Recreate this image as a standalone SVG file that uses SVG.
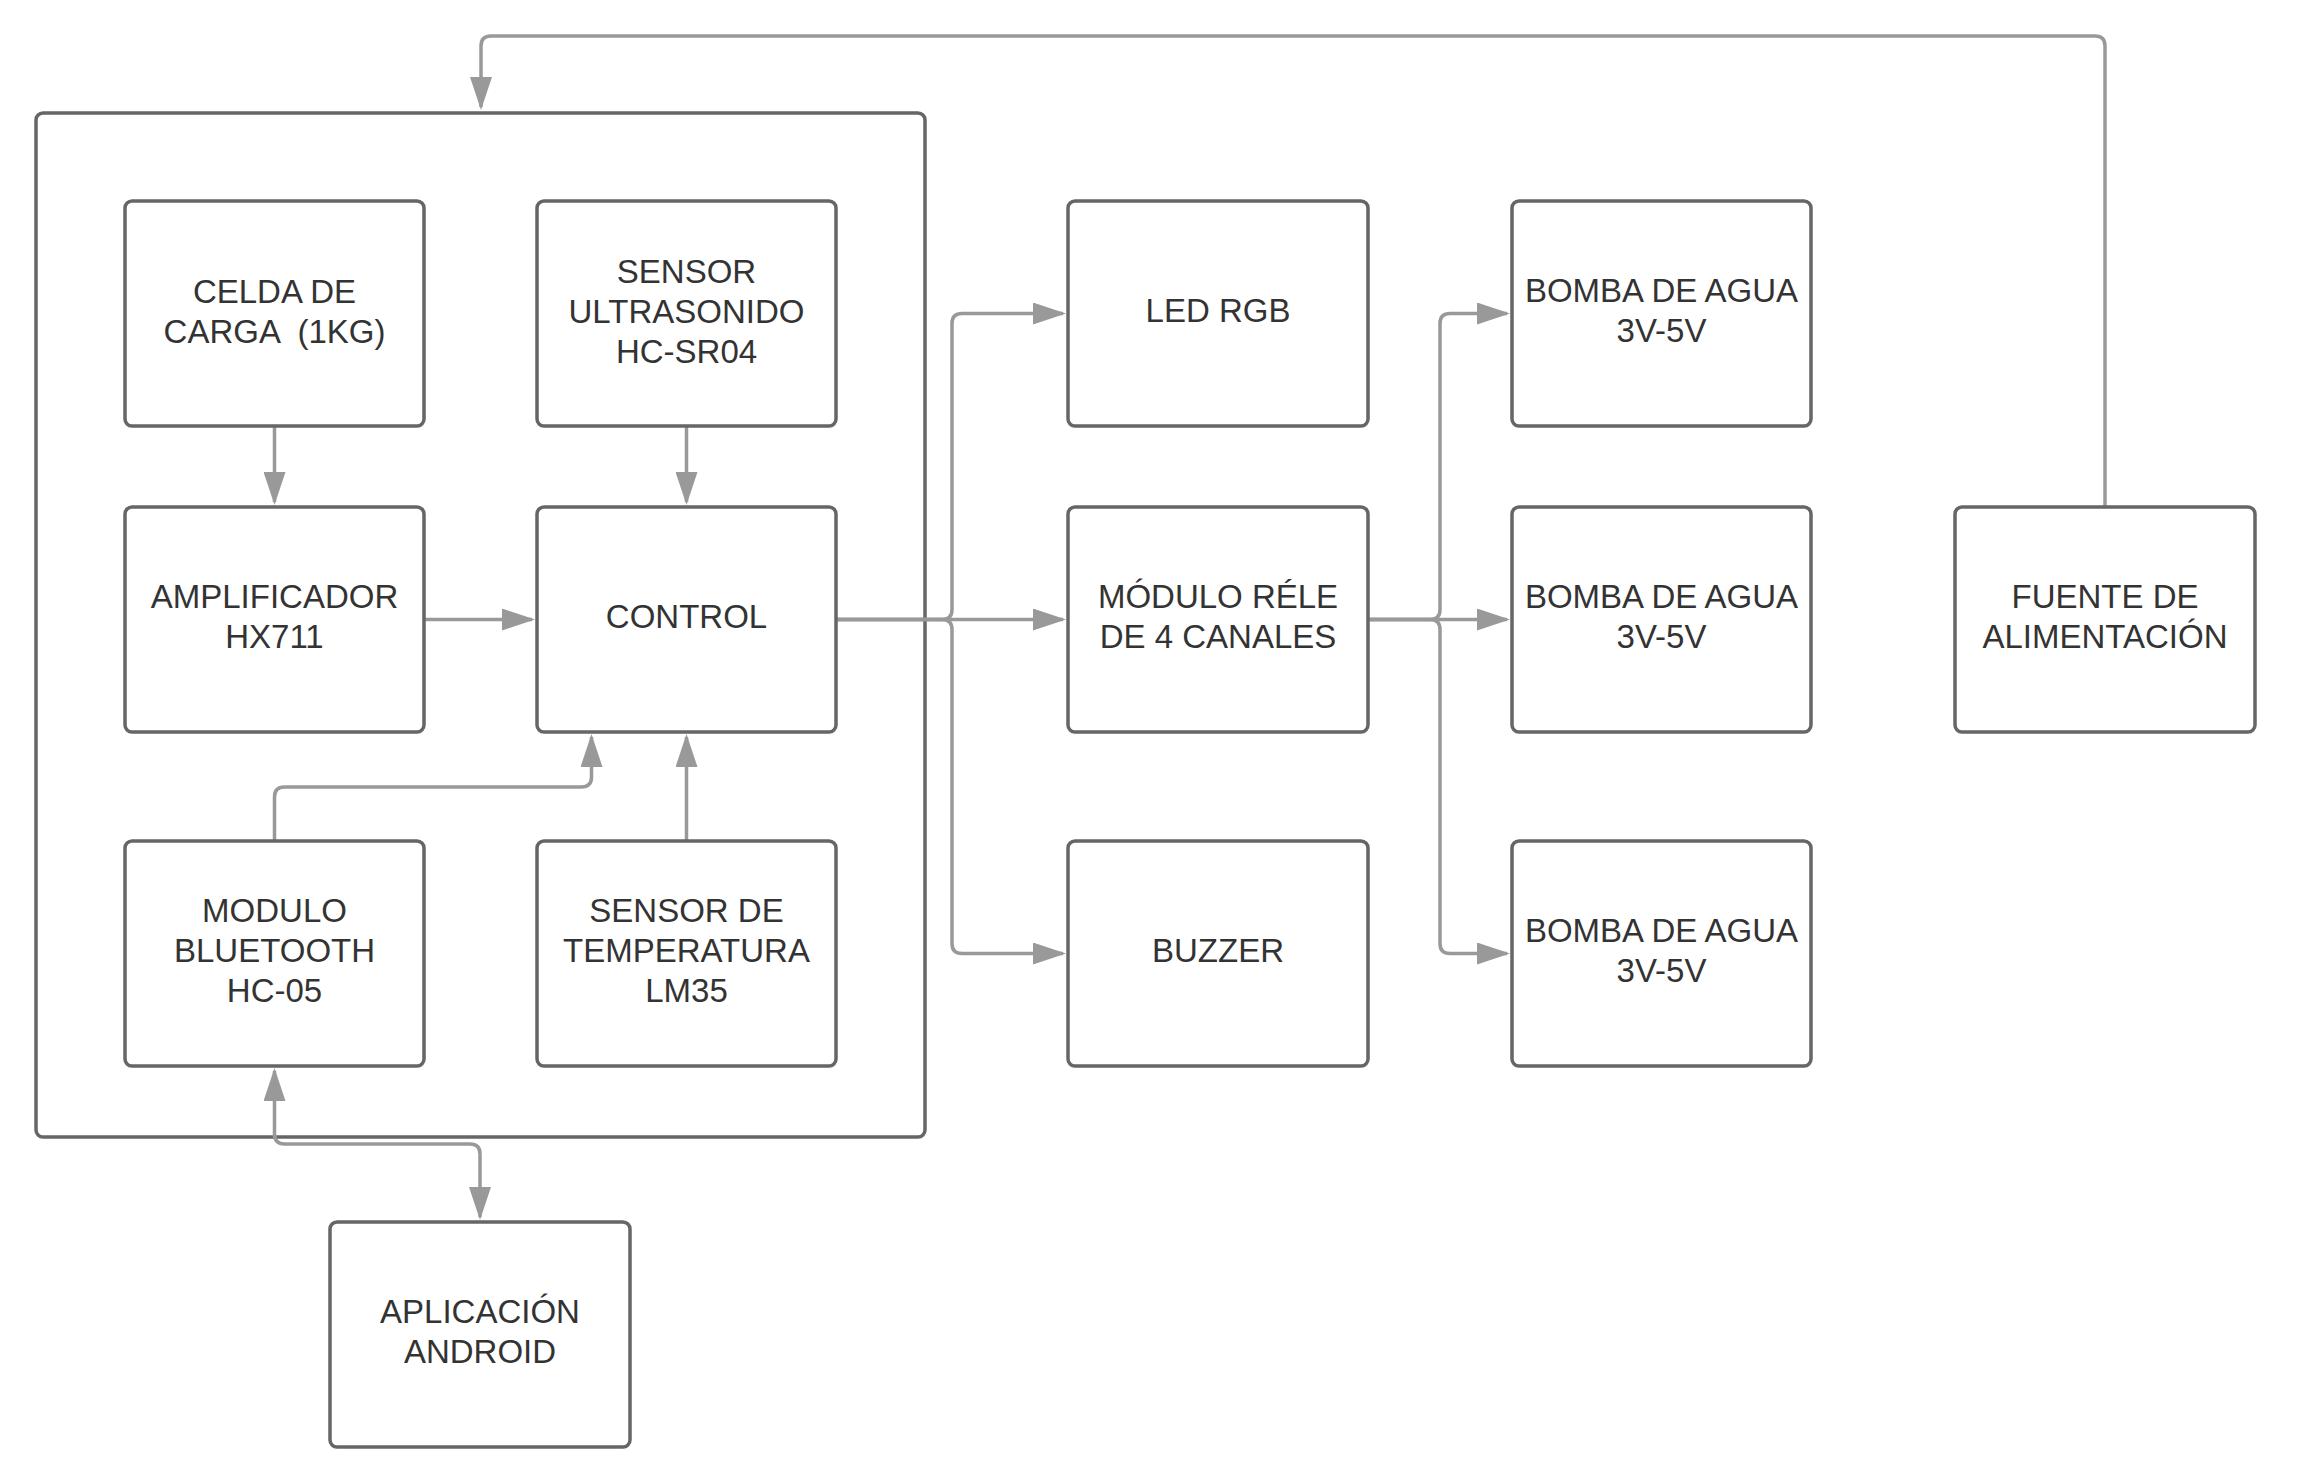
<svg xmlns="http://www.w3.org/2000/svg" width="2310" height="1481" viewBox="0 0 2310 1481">
<style>
.box{fill:#ffffff;stroke:#666666;stroke-width:3.5}
.lbl{font-family:"Liberation Sans",Arial,sans-serif;font-size:33px;fill:#333333;text-anchor:middle;white-space:pre}
.cn{fill:none;stroke:#999999;stroke-width:3.5;marker-end:url(#ah)}
</style>
<defs>
<marker id="ah" markerUnits="userSpaceOnUse" viewBox="0 0 33 22" refX="30" refY="11" markerWidth="33" markerHeight="22" orient="auto-start-reverse">
<path d="M0,0 L33,11 L0,22 z" fill="#999999"/>
</marker>
</defs>
<rect width="2310" height="1481" fill="#ffffff"/>
<g id="container"><rect class="box" x="36" y="113" width="889" height="1024" rx="7"/></g>
<g id="connectors">
<path class="cn" d="M274.5,426 V502"/>
<path class="cn" d="M686.5,426 V502"/>
<path class="cn" d="M424,619.5 H532"/>
<path class="cn" d="M686.5,841 V737"/>
<path class="cn" d="M274.5,841 V797 Q274.5,787 284.5,787 H581.5 Q591.5,787 591.5,777 V737"/>
<path class="cn" style="marker-start:url(#ah)" d="M274.5,1071 V1134 Q274.5,1144 284.5,1144 H470 Q480,1144 480,1154 V1217"/>
<path class="cn" d="M836,619.5 H942 Q952,619.5 952,609.5 V323.5 Q952,313.5 962,313.5 H1063"/>
<path class="cn" d="M836,619.5 H1063"/>
<path class="cn" d="M836,619.5 H942 Q952,619.5 952,629.5 V943.5 Q952,953.5 962,953.5 H1063"/>
<path class="cn" d="M1368,619.5 H1430 Q1440,619.5 1440,609.5 V323.5 Q1440,313.5 1450,313.5 H1507"/>
<path class="cn" d="M1368,619.5 H1507"/>
<path class="cn" d="M1368,619.5 H1430 Q1440,619.5 1440,629.5 V943.5 Q1440,953.5 1450,953.5 H1507"/>
<path class="cn" d="M2105,507 V46 Q2105,36 2095,36 H491 Q481,36 481,46 V107"/>
</g>
<g id="celda"><rect class="box" x="125" y="201" width="299" height="225" rx="7"/><text class="lbl" x="274.5" y="302.5">CELDA DE</text><text class="lbl" x="274.5" y="342.5" xml:space="preserve">CARGA  (1KG)</text></g>
<g id="ultrasonido"><rect class="box" x="537" y="201" width="299" height="225" rx="7"/><text class="lbl" x="686.5" y="282.5">SENSOR</text><text class="lbl" x="686.5" y="322.5">ULTRASONIDO</text><text class="lbl" x="686.5" y="362.5">HC-SR04</text></g>
<g id="amplificador"><rect class="box" x="125" y="507" width="299" height="225" rx="7"/><text class="lbl" x="274.5" y="608">AMPLIFICADOR</text><text class="lbl" x="274.5" y="648">HX711</text></g>
<g id="control"><rect class="box" x="537" y="507" width="299" height="225" rx="7"/><text class="lbl" x="686.5" y="628">CONTROL</text></g>
<g id="bluetooth"><rect class="box" x="125" y="841" width="299" height="225" rx="7"/><text class="lbl" x="274.5" y="922">MODULO</text><text class="lbl" x="274.5" y="962">BLUETOOTH</text><text class="lbl" x="274.5" y="1002">HC-05</text></g>
<g id="temperatura"><rect class="box" x="537" y="841" width="299" height="225" rx="7"/><text class="lbl" x="686.5" y="922">SENSOR DE</text><text class="lbl" x="686.5" y="962">TEMPERATURA</text><text class="lbl" x="686.5" y="1002">LM35</text></g>
<g id="led"><rect class="box" x="1068" y="201" width="300" height="225" rx="7"/><text class="lbl" x="1218" y="322">LED RGB</text></g>
<g id="rele"><rect class="box" x="1068" y="507" width="300" height="225" rx="7"/><text class="lbl" x="1218" y="608">MÓDULO RÉLE</text><text class="lbl" x="1218" y="648">DE 4 CANALES</text></g>
<g id="buzzer"><rect class="box" x="1068" y="841" width="300" height="225" rx="7"/><text class="lbl" x="1218" y="962">BUZZER</text></g>
<g id="bomba1"><rect class="box" x="1512" y="201" width="299" height="225" rx="7"/><text class="lbl" x="1661.5" y="302">BOMBA DE AGUA</text><text class="lbl" x="1661.5" y="342">3V-5V</text></g>
<g id="bomba2"><rect class="box" x="1512" y="507" width="299" height="225" rx="7"/><text class="lbl" x="1661.5" y="608">BOMBA DE AGUA</text><text class="lbl" x="1661.5" y="648">3V-5V</text></g>
<g id="bomba3"><rect class="box" x="1512" y="841" width="299" height="225" rx="7"/><text class="lbl" x="1661.5" y="942">BOMBA DE AGUA</text><text class="lbl" x="1661.5" y="982">3V-5V</text></g>
<g id="fuente"><rect class="box" x="1955" y="507" width="300" height="225" rx="7"/><text class="lbl" x="2105" y="608">FUENTE DE</text><text class="lbl" x="2105" y="648">ALIMENTACIÓN</text></g>
<g id="android"><rect class="box" x="330" y="1222" width="300" height="225" rx="7"/><text class="lbl" x="480" y="1323">APLICACIÓN</text><text class="lbl" x="480" y="1363">ANDROID</text></g>
</svg>
